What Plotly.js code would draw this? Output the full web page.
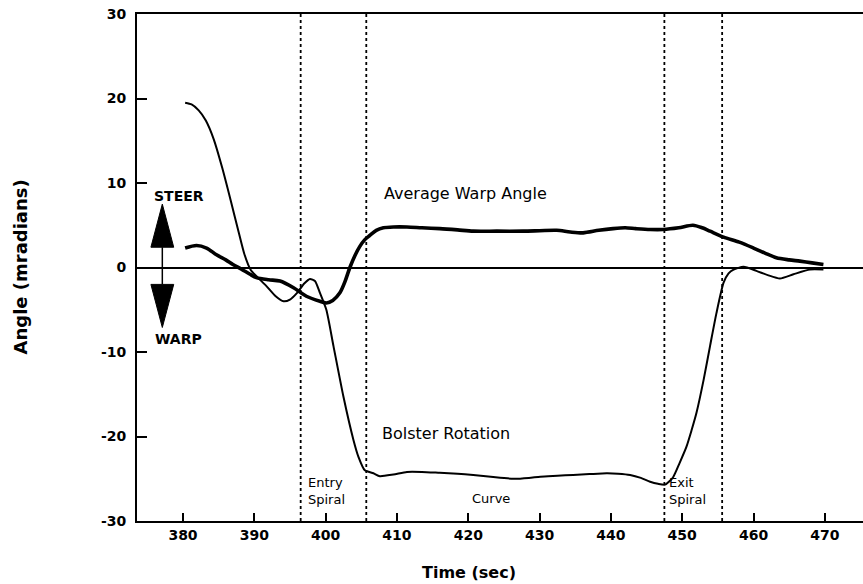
<!DOCTYPE html>
<html>
<head>
<meta charset="utf-8">
<script src="https://cdn.plot.ly/plotly-3.0.1.min.js"></script>
<style>html,body{margin:0;padding:0;background:#fff;}#chart{width:863px;height:584px;}</style>
</head>
<body>
<div id="chart"></div>
<script>
// Bolster Rotation (thin line)
const bolsterTime = [380.3, 381.2, 382.2, 383.2, 384.3, 385.5, 386.7, 387.8, 388.6, 389.5, 390.5, 391.7, 393.0, 394.1, 395.0, 396.0, 397.0, 397.8, 398.5, 399.2, 400.1, 401.1, 402.5, 403.9, 404.6, 405.5, 406.7, 407.6, 409.5, 411.4, 413.5, 416.0, 418.5, 420.7, 423.5, 426.3, 428.5, 430.1, 432.5, 434.7, 437.0, 439.4, 441.0, 442.7, 444.2, 445.5, 446.6, 447.6, 448.7, 449.6, 450.6, 451.3, 452.0, 453.0, 453.9, 454.8, 455.8, 456.5, 457.2, 458.6, 460.4, 462.0, 463.7, 465.6, 467.9, 469.8];
const bolsterAngle = [19.5, 19.3, 18.6, 17.4, 15.2, 11.8, 7.9, 4.2, 1.6, -0.3, -1.2, -2.2, -3.4, -4.0, -3.8, -3.0, -1.9, -1.35, -1.6, -3.0, -5.0, -9.3, -15.3, -20.4, -22.4, -24.0, -24.35, -24.7, -24.5, -24.2, -24.2, -24.3, -24.4, -24.55, -24.8, -25.0, -24.9, -24.75, -24.65, -24.55, -24.45, -24.35, -24.4, -24.55, -24.9, -25.35, -25.6, -25.7, -24.85, -23.2, -21.2, -19.3, -17.2, -13.3, -9.3, -5.4, -1.8, -0.7, -0.24, 0.08, -0.4, -0.9, -1.3, -0.8, -0.24, -0.24];

// Average Warp Angle (thick line)
const warpTime = [380.3, 381.9, 383.3, 384.7, 386.0, 387.0, 388.2, 389.4, 390.3, 392.0, 393.6, 395.5, 397.3, 399.2, 400.1, 401.0, 402.0, 402.7, 403.4, 404.1, 404.8, 405.5, 406.2, 407.1, 408.1, 409.5, 411.4, 413.5, 416.0, 418.5, 420.7, 424.0, 427.7, 430.0, 432.4, 434.3, 436.1, 438.3, 440.3, 442.0, 443.5, 445.5, 447.3, 449.5, 451.5, 452.8, 453.9, 455.8, 458.0, 460.0, 461.6, 463.2, 465.0, 466.5, 468.2, 469.8];
const warpAngle = [2.3, 2.6, 2.3, 1.5, 0.9, 0.36, -0.2, -0.8, -1.2, -1.45, -1.6, -2.4, -3.4, -4.0, -4.2, -3.9, -3.0, -1.7, 0.0, 1.4, 2.5, 3.3, 3.8, 4.4, 4.7, 4.8, 4.8, 4.7, 4.6, 4.45, 4.3, 4.3, 4.3, 4.35, 4.4, 4.2, 4.1, 4.4, 4.6, 4.7, 4.6, 4.5, 4.5, 4.7, 5.0, 4.7, 4.3, 3.6, 3.0, 2.3, 1.7, 1.15, 0.9, 0.75, 0.55, 0.36];

// Phase boundaries (entry spiral start/end, exit spiral start/end)
const phaseBounds = [396.5, 405.7, 447.5, 455.6];

// Tick labels
const xTickVals = [380, 390, 400, 410, 420, 430, 440, 450, 460, 470];
const xTickText = ['380', '390', '400', '410', '420', '430', '440', '450', '460', '470'];
const yTickVals = [-30, -20, -10, 0, 10, 20, 30];
const yTickText = ['-30', '-20', '-10', '0', '10', '20', '30'];

const FONT = 'DejaVu Sans, Liberation Sans, Arial, sans-serif';

const traces = [
  {x: warpTime, y: warpAngle, mode: 'lines', name: 'Average Warp Angle',
   line: {color: '#000', width: 3.6, shape: 'spline', smoothing: 0.8}},
  {x: bolsterTime, y: bolsterAngle, mode: 'lines', name: 'Bolster Rotation',
   line: {color: '#000', width: 2, shape: 'spline', smoothing: 0.6}}
];

const shapes = phaseBounds.map(t => ({
  type: 'line', xref: 'x', yref: 'paper', x0: t, x1: t, y0: 0, y1: 1,
  line: {color: '#000', width: 1.8, dash: 'dot'}
}));
// Steer / warp double arrow
shapes.push({type: 'line', xref: 'x', yref: 'y', x0: 377.1, x1: 377.1, y0: 2.4, y1: -2.0,
  line: {color: '#000', width: 1.5}});
shapes.push({type: 'path', xref: 'x', yref: 'y', path: 'M 375.5,2.4 L 378.7,2.4 L 377.1,7.5 Z',
  fillcolor: '#000', line: {color: '#000', width: 1}});
shapes.push({type: 'path', xref: 'x', yref: 'y', path: 'M 375.5,-2.0 L 378.7,-2.0 L 377.1,-7.1 Z',
  fillcolor: '#000', line: {color: '#000', width: 1}});

const annFont = {family: FONT, size: 16, color: '#000'};
const smallFont = {family: FONT, size: 13, color: '#000'};
const annotations = [
  {x: 379.5, y: 8.5, xref: 'x', yref: 'y', text: 'STEER', showarrow: false,
   font: {family: FONT, size: 14, color: '#000', weight: 'bold'}, xanchor: 'center', yanchor: 'middle'},
  {x: 379.3, y: -8.5, xref: 'x', yref: 'y', text: 'WARP', showarrow: false,
   font: {family: FONT, size: 14, color: '#000', weight: 'bold'}, xanchor: 'center', yanchor: 'middle'},
  {x: 407.9, y: 8.8, xref: 'x', yref: 'y', text: 'Average Warp Angle', showarrow: false,
   font: annFont, xanchor: 'left', yanchor: 'middle'},
  {x: 407.6, y: -19.6, xref: 'x', yref: 'y', text: 'Bolster Rotation', showarrow: false,
   font: annFont, xanchor: 'left', yanchor: 'middle'},
  {x: 397.2, y: -26.4, xref: 'x', yref: 'y', text: 'Entry<br>Spiral', showarrow: false,
   font: smallFont, xanchor: 'left', yanchor: 'middle', align: 'left'},
  {x: 423.2, y: -27.3, xref: 'x', yref: 'y', text: 'Curve', showarrow: false,
   font: smallFont, xanchor: 'center', yanchor: 'middle'},
  {x: 447.9, y: -26.4, xref: 'x', yref: 'y', text: 'Exit<br>Spiral', showarrow: false,
   font: smallFont, xanchor: 'left', yanchor: 'middle', align: 'left'},
  // axis titles
  {x: 0.457, y: 0, xref: 'paper', yref: 'paper', yshift: -51, text: 'Time (sec)', showarrow: false,
   font: {family: FONT, size: 16, color: '#000', weight: 'bold'}, xanchor: 'center', yanchor: 'middle'},
  {x: 0, y: 0.5, xref: 'paper', yref: 'paper', xshift: -117, text: 'Angle (mradians)', showarrow: false, textangle: -90,
   font: {family: FONT, size: 18, color: '#000', weight: 'bold'}, xanchor: 'center', yanchor: 'middle'}
];

const layout = {
  width: 863, height: 584,
  margin: {l: 137, r: 0, t: 14, b: 63, pad: 0},
  paper_bgcolor: '#fff', plot_bgcolor: '#fff',
  showlegend: false,
  font: {family: FONT, color: '#000'},
  xaxis: {
    range: [373.55, 475.35],
    tickvals: xTickVals, ticktext: xTickText,
    ticks: 'inside', ticklen: 8, tickwidth: 2, tickcolor: '#000',
    showline: true, linewidth: 2, linecolor: '#000', mirror: true,
    showgrid: false, zeroline: false,
    tickfont: {family: FONT, size: 14, weight: 'bold', color: '#000'}
  },
  yaxis: {
    range: [-30, 30],
    tickvals: yTickVals, ticktext: yTickText,
    ticks: 'inside', ticklen: 10, tickwidth: 2, tickcolor: '#000',
    showline: true, linewidth: 2, linecolor: '#000',
    showgrid: false, zeroline: true, zerolinecolor: '#000', zerolinewidth: 2,
    tickfont: {family: FONT, size: 14, weight: 'bold', color: '#000'},
    ticklabelstandoff: 6
  },
  shapes: shapes,
  annotations: annotations
};

Plotly.newPlot('chart', traces, layout, {staticPlot: true, displayModeBar: false});
</script>
</body>
</html>
